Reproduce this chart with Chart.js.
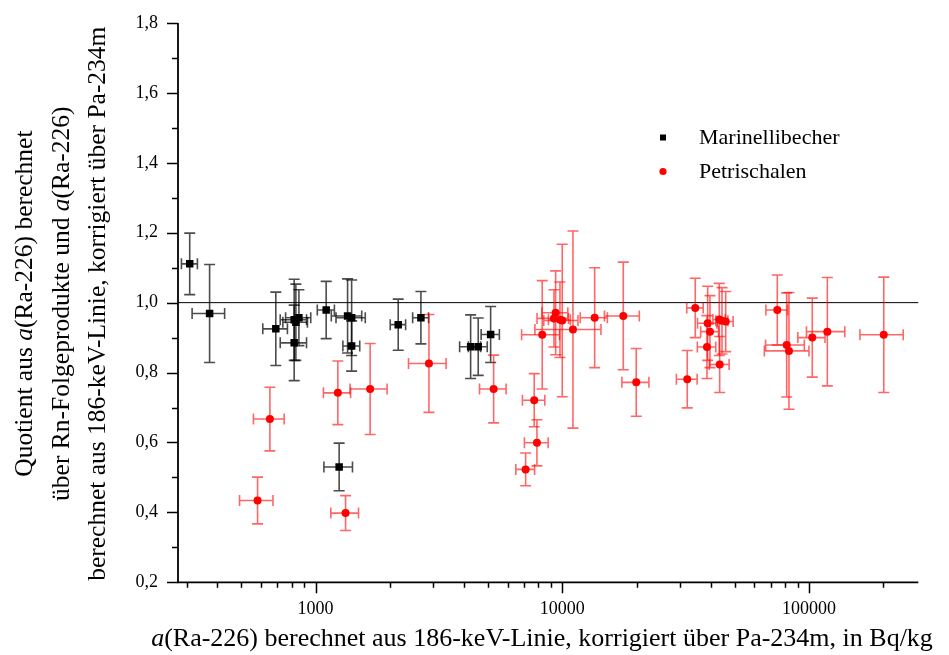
<!DOCTYPE html>
<html>
<head>
<meta charset="utf-8">
<title>Quotient Ra-226</title>
<script src="https://cdn.jsdelivr.net/npm/chart.js@4/dist/chart.umd.min.js"></script>
<style>
    body { margin: 0; background: #ffffff; }
    canvas { display: block; }
</style>
</head>
<body>
<canvas id="myChart" width="949" height="655"></canvas>
<script>
// Marinellibecher (black squares)
let mariX = [309, 372, 690, 819, 832, 856, 819, 1104, 1348, 1400, 1400, 2162, 2672, 4250, 4562, 5122, 1246];
let mariY = [1.111, 0.969, 0.925, 0.951, 0.944, 0.957, 0.885, 0.979, 0.962, 0.957, 0.876, 0.937, 0.957, 0.874, 0.874, 0.909, 0.530];
let mariXErr = [23, 56, 79, 100, 95, 100, 100, 88, 190, 190, 110, 155, 198, 415, 400, 435, 165];
let mariYErr = [0.088, 0.140, 0.105, 0.116, 0.109, 0.080, 0.108, 0.082, 0.106, 0.108, 0.072, 0.073, 0.075, 0.091, 0.082, 0.080, 0.068];

// Petrischalen (red circles)
let petriX = [653, 1231, 1664, 582, 1323, 2880, 5267, 7692, 7889, 7100, 8288, 9394, 9247, 9990, 9780, 11040,
    13520, 17660, 19930, 32080, 34570, 38810, 39650, 38550, 43250, 44360, 45920, 43410,
    74310, 81120, 82870, 103000, 118550, 200700];
let petriY = [0.667, 0.742, 0.753, 0.434, 0.398, 0.826, 0.753, 0.721, 0.599, 0.523, 0.908, 0.971, 0.955, 0.949, 0.951, 0.923,
    0.957, 0.962, 0.772, 0.781, 0.985, 0.941, 0.917, 0.873, 0.952, 0.948, 0.946, 0.823,
    0.979, 0.879, 0.862, 0.900, 0.917, 0.908];
let petriXErr = [93, 155, 285, 90, 170, 500, 650, 800, 870, 620, 1450, 1130, 1350, 1580, 1000, 3300,
    1700, 2850, 2500, 3100, 2650, 3500, 3300, 3300, 2500, 2500, 3300, 4000,
    7500, 14500, 17000, 13000, 21000, 40000];
let petriYErr = [0.091, 0.091, 0.130, 0.067, 0.050, 0.140, 0.097, 0.076, 0.066, 0.047, 0.155, 0.120, 0.082, 0.218, 0.108, 0.282,
    0.143, 0.154, 0.097, 0.082, 0.085, 0.106, 0.103, 0.090, 0.103, 0.095, 0.086, 0.080,
    0.100, 0.149, 0.167, 0.113, 0.155, 0.165];

let seriesNames = ['Marinellibecher', 'Petrischalen'];
let yTicks = [0.2, 0.4, 0.6, 0.8, 1.0, 1.2, 1.4, 1.6, 1.8];

const serif = "'Liberation Serif', 'DejaVu Serif', serif";

function toPoints(xs, ys) {
    let pts = [];
    for (let i = 0; i < xs.length; i++) {
        pts.push({ x: xs[i], y: ys[i] });
    }
    return pts;
}

// error bars, drawn under the markers
const errorBars = {
    id: 'errorBars',
    beforeDatasetsDraw(chart) {
        const ctx = chart.ctx;
        const xs = chart.scales.x;
        const ys = chart.scales.y;
        const area = chart.chartArea;

        // reference line at 1,0
        ctx.save();
        ctx.strokeStyle = '#000';
        ctx.lineWidth = 1;
        ctx.beginPath();
        ctx.moveTo(area.left, ys.getPixelForValue(1.0));
        ctx.lineTo(area.right, ys.getPixelForValue(1.0));
        ctx.stroke();

        const sets = [
            { x: mariX, y: mariY, ex: mariXErr, ey: mariYErr, color: 'rgba(0,0,0,0.7)' },
            { x: petriX, y: petriY, ex: petriXErr, ey: petriYErr, color: 'rgba(255,0,0,0.6)' }
        ];
        const cap = 5.5;
        ctx.lineWidth = 1.6;
        sets.forEach(s => {
            ctx.strokeStyle = s.color;
            for (let i = 0; i < s.x.length; i++) {
                const px = xs.getPixelForValue(s.x[i]);
                const py = ys.getPixelForValue(s.y[i]);
                const x0 = xs.getPixelForValue(s.x[i] - s.ex[i]);
                const x1 = xs.getPixelForValue(s.x[i] + s.ex[i]);
                const y0 = ys.getPixelForValue(s.y[i] - s.ey[i]);
                const y1 = ys.getPixelForValue(s.y[i] + s.ey[i]);
                ctx.beginPath();
                ctx.moveTo(px, y0); ctx.lineTo(px, y1);
                ctx.moveTo(px - cap, y0); ctx.lineTo(px + cap, y0);
                ctx.moveTo(px - cap, y1); ctx.lineTo(px + cap, y1);
                ctx.moveTo(x0, py); ctx.lineTo(x1, py);
                ctx.moveTo(x0, py - cap); ctx.lineTo(x0, py + cap);
                ctx.moveTo(x1, py - cap); ctx.lineTo(x1, py + cap);
                ctx.stroke();
            }
        });
        ctx.restore();
    }
};

// draw a line made of normal and italic pieces, centred on (0,0)
function drawMixed(ctx, parts, size) {
    let widths = parts.map(p => {
        ctx.font = (p[1] ? 'italic ' : '') + size + 'px ' + serif;
        return ctx.measureText(p[0]).width;
    });
    let total = widths.reduce((a, b) => a + b, 0);
    let x = -total / 2;
    parts.forEach((p, i) => {
        ctx.font = (p[1] ? 'italic ' : '') + size + 'px ' + serif;
        ctx.fillText(p[0], x, 0);
        x += widths[i];
    });
}

// axes lines, tick marks, titles and legend
const decorations = {
    id: 'decorations',
    afterDraw(chart) {
        const ctx = chart.ctx;
        const xs = chart.scales.x;
        const ys = chart.scales.y;
        const area = chart.chartArea;
        ctx.save();
        ctx.strokeStyle = '#000';
        ctx.fillStyle = '#000';

        // axis lines
        ctx.lineWidth = 1.8;
        ctx.beginPath();
        ctx.moveTo(area.left, area.top);
        ctx.lineTo(area.left, area.bottom);
        ctx.lineTo(area.right, area.bottom);
        ctx.stroke();

        // x ticks (log)
        ctx.lineWidth = 1.5;
        ctx.beginPath();
        for (let e = 2; e <= 5; e++) {
            for (let m = 1; m <= 9; m++) {
                const v = m * Math.pow(10, e);
                if (v < xs.min || v > xs.max) continue;
                const px = Math.round(xs.getPixelForValue(v)) + 0.5;
                ctx.moveTo(px, area.bottom);
                ctx.lineTo(px, area.bottom + (m === 1 ? 11 : 5.5));
            }
        }
        // y ticks
        for (let i = 2; i <= 18; i++) {
            const py = Math.round(ys.getPixelForValue(i / 10)) + 0.5;
            ctx.moveTo(area.left, py);
            ctx.lineTo(area.left - (i % 2 === 0 ? 11 : 6), py);
        }
        ctx.stroke();

        // y title, three rotated lines
        const yLines = [
            [['Quotient aus ', false], ['a', true], ['(Ra-226) berechnet', false]],
            [['über Rn-Folgeprodukte und ', false], ['a', true], ['(Ra-226)', false]],
            [['berechnet aus 186-keV-Linie, korrigiert über Pa-234m', false]]
        ];
        const lineX = [25, 62, 98];
        ctx.textBaseline = 'middle';
        ctx.textAlign = 'left';
        yLines.forEach((parts, i) => {
            ctx.save();
            ctx.translate(lineX[i], (area.top + area.bottom) / 2 + 1);
            ctx.rotate(-Math.PI / 2);
            drawMixed(ctx, parts, 25.5);
            ctx.restore();
        });

        // x title
        ctx.save();
        ctx.translate(542, 639);
        drawMixed(ctx, [['a', true], ['(Ra-226) berechnet aus 186-keV-Linie, korrigiert über Pa-234m, in Bq/kg', false]], 26);
        ctx.restore();

        // legend
        ctx.font = '22px ' + serif;
        ctx.fillStyle = '#000';
        ctx.fillRect(660, 134.5, 6, 6);
        ctx.fillText(seriesNames[0], 699, 138);
        ctx.fillStyle = '#ff0000';
        ctx.beginPath();
        ctx.arc(663, 171.5, 3.6, 0, Math.PI * 2);
        ctx.fill();
        ctx.fillStyle = '#000';
        ctx.fillText(seriesNames[1], 699, 172);
        ctx.restore();
    }
};

function noPadding(scale) {
    scale.paddingTop = 0;
    scale.paddingBottom = 0;
    scale.paddingLeft = 0;
    scale.paddingRight = 0;
}

const ctx = document.getElementById('myChart').getContext('2d');
const myChart = new Chart(ctx, {
    type: 'scatter',
    data: {
        datasets: [{
            label: seriesNames[0],
            data: toPoints(mariX, mariY),
            pointStyle: 'rect',
            pointRadius: 5.3,
            backgroundColor: '#000000',
            borderWidth: 0
        }, {
            label: seriesNames[1],
            data: toPoints(petriX, petriY),
            pointStyle: 'circle',
            pointRadius: 4,
            backgroundColor: '#ff0000',
            borderWidth: 0
        }]
    },
    options: {
        responsive: false,
        animation: false,
        devicePixelRatio: 1,
        layout: { padding: { top: 23, right: 30.7, left: 0, bottom: 0 } },
        plugins: {
            legend: { display: false },
            tooltip: { enabled: false }
        },
        scales: {
            x: {
                type: 'logarithmic',
                min: 277,
                max: 277000,
                grid: { display: false, drawTicks: false },
                border: { display: false },
                ticks: {
                    autoSkip: false,
                    maxRotation: 0,
                    padding: 16,
                    color: '#000',
                    font: { family: serif, size: 18 },
                    callback: function (v) {
                        const e = Math.round(Math.log10(v));
                        if (Math.abs(v - Math.pow(10, e)) < 1e-6 * v) return String(Math.pow(10, e));
                        return '';
                    }
                },
                afterFit: function (scale) {
                    scale.height = 72.7;
                    noPadding(scale);
                }
            },
            y: {
                min: 0.2,
                max: 1.8,
                grid: { display: false, drawTicks: false },
                border: { display: false },
                ticks: {
                    stepSize: 0.2,
                    padding: 20,
                    color: '#000',
                    font: { family: serif, size: 18 },
                    callback: function (v) {
                        let t = yTicks.find(k => Math.abs(k - v) < 1e-6);
                        return t === undefined ? '' : t.toFixed(1).replace('.', ',');
                    }
                },
                afterFit: function (scale) {
                    scale.width = 178;
                    noPadding(scale);
                }
            }
        }
    },
    plugins: [errorBars, decorations]
});
</script>
</body>
</html>
